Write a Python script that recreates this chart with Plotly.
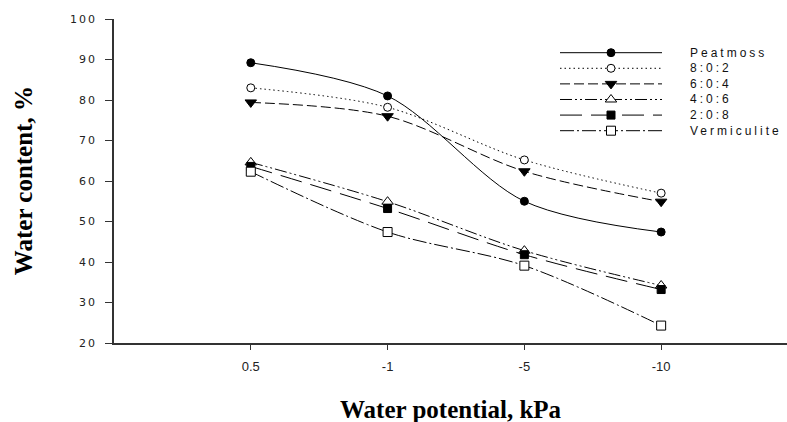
import plotly.graph_objects as go

# Water potential levels (kPa) and water content (%) of each substrate mix
potentials = ["0.5", "-1", "-5", "-10"]
peatmoss = [89.2, 81.0, 55.0, 47.4]
mix_8_0_2 = [83.0, 78.2, 65.2, 57.0]
mix_6_0_4 = [79.4, 76.0, 62.4, 54.9]
mix_4_0_6 = [64.6, 54.9, 42.8, 34.2]
mix_2_0_8 = [63.6, 53.2, 41.8, 33.2]
vermiculite = [62.3, 47.4, 39.1, 24.3]
series_names = ["Peatmoss", "8:0:2", "6:0:4", "4:0:6", "2:0:8", "Vermiculite"]
y_ticks = [20, 30, 40, 50, 60, 70, 80, 90, 100]

series_values = [peatmoss, mix_8_0_2, mix_6_0_4, mix_4_0_6, mix_2_0_8, vermiculite]

# line dash and marker for each series
styles = [
    dict(dash="solid", symbol="circle", fill="black", size=8),
    dict(dash="1.5px,3px", symbol="circle", fill="white", size=8),
    dict(dash="10px,4px", symbol="triangle-down", fill="black", size=10),
    dict(dash="12px,3px,2px,3px,2px,3px", symbol="triangle-up", fill="white", size=10),
    dict(dash="22px,9px", symbol="square", fill="black", size=8),
    dict(dash="14px,3px,2px,3px", symbol="square", fill="white", size=9),
]

xs = list(range(1, len(potentials) + 1))

fig = go.Figure()
for name, vals, st in zip(series_names, series_values, styles):
    fig.add_trace(go.Scatter(
        x=xs, y=vals, name=name, mode="lines+markers",
        line=dict(color="black", width=1, dash=st["dash"], shape="spline", smoothing=0.9),
        marker=dict(symbol=st["symbol"], size=st["size"], color=st["fill"],
                    line=dict(color="black", width=1)),
        showlegend=False, cliponaxis=False,
    ))

# key drawn on its own hidden axes so the sample lines can be long
annotations = []
for row, (name, st) in enumerate(zip(series_names, styles)):
    fig.add_trace(go.Scatter(
        x=[0, 1], y=[row, row], mode="lines", xaxis="x2", yaxis="y2",
        line=dict(color="black", width=1, dash=st["dash"]),
        showlegend=False, hoverinfo="skip",
    ))
    fig.add_trace(go.Scatter(
        x=[0.5], y=[row], mode="markers", xaxis="x2", yaxis="y2",
        marker=dict(symbol=st["symbol"], size=st["size"], color=st["fill"],
                    line=dict(color="black", width=1)),
        showlegend=False, hoverinfo="skip", cliponaxis=False,
    ))
    annotations.append(dict(
        xref="x2", yref="y2", x=1, y=row, xanchor="left", yanchor="middle",
        xshift=26, showarrow=False,
        text=f'<span style="letter-spacing:3px">{name}</span>',
        font=dict(family="Liberation Sans", size=12, color="#111"),
    ))

annotations.append(dict(
    xref="paper", yref="paper", x=0.5007, y=-0.204, xanchor="center", yanchor="middle",
    showarrow=False, text="<b>Water potential, kPa</b>",
    font=dict(family="Liberation Serif", size=25, color="black"),
))
annotations.append(dict(
    xref="paper", yref="paper", x=-0.135, y=0.5, xanchor="center", yanchor="middle",
    showarrow=False, textangle=-90, text="<b>Water content, %</b>",
    font=dict(family="Liberation Serif", size=25, color="black"),
))

y_ticktext = [f'<span style="letter-spacing:2px">{v}</span>' for v in y_ticks]

fig.update_layout(
    width=787, height=422,
    margin=dict(l=114, r=0, t=19, b=79),
    paper_bgcolor="white", plot_bgcolor="rgba(0,0,0,0)",
    showlegend=False,
    annotations=annotations,
    xaxis=dict(
        range=[0.0, 4.92], tickvals=xs, ticktext=potentials,
        ticks="outside", ticklen=5, tickwidth=1, tickcolor="#333",
        showline=True, linecolor="#333", linewidth=1.5,
        showgrid=False, zeroline=False, ticklabelstandoff=6,
        tickfont=dict(family="Liberation Sans", size=13, color="#222"),
    ),
    yaxis=dict(
        range=[20, 100], tickvals=y_ticks, ticktext=y_ticktext,
        ticks="outside", ticklen=7, tickwidth=1, tickcolor="#333",
        showline=True, linecolor="#333", linewidth=1.5,
        showgrid=False, zeroline=False, ticklabelstandoff=6,
        tickfont=dict(family="DejaVu Sans", size=11, color="#222"),
    ),
    xaxis2=dict(domain=[(560 - 114) / 673, (662 - 114) / 673], range=[0, 1],
                visible=False, anchor="y2", fixedrange=True),
    yaxis2=dict(domain=[0, 1], range=[18.61, -2.16], visible=False,
                anchor="x2", fixedrange=True),
)

fig.write_html("out.html")
